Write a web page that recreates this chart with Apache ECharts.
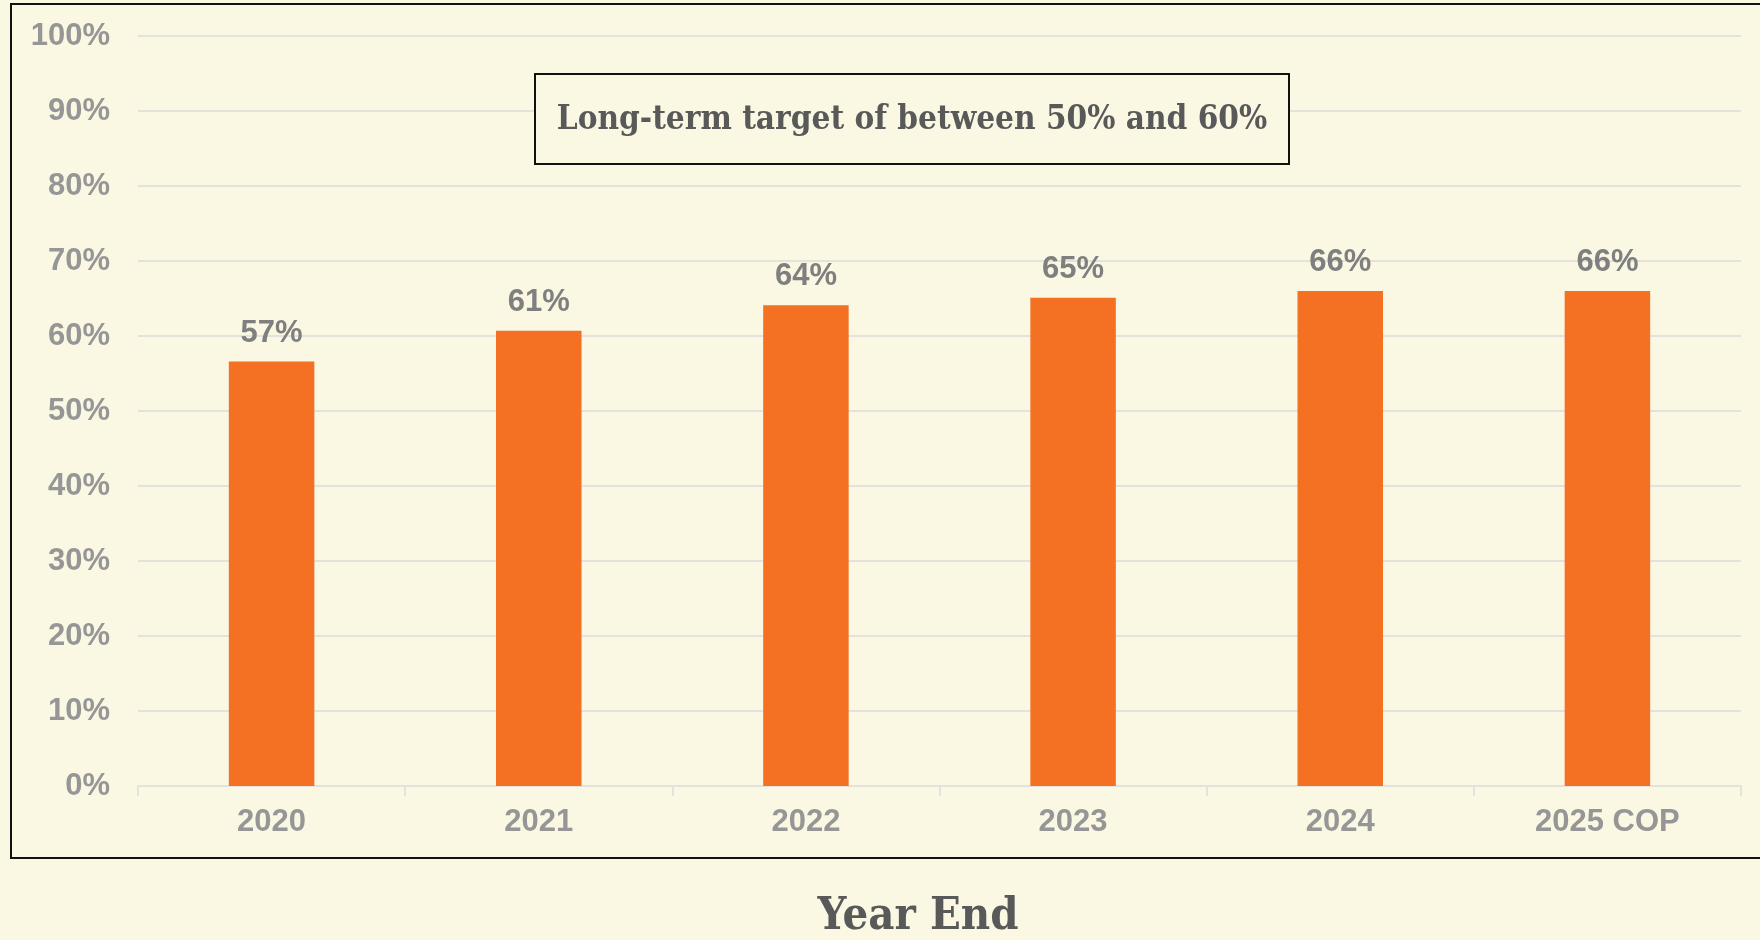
<!DOCTYPE html>
<html>
<head>
<meta charset="utf-8">
<script src="https://cdn.jsdelivr.net/npm/echarts@6/dist/echarts.min.js"></script>
<style>
  html, body { margin: 0; padding: 0; background: #faf7e3; }
  #chart { width: 1760px; height: 940px; }
</style>
</head>
<body>
<div id="chart"></div>
<script>
// data
var years = ['2020', '2021', '2022', '2023', '2024', '2025 COP'];
var ratio = [56.6, 60.7, 64.1, 65.1, 66.0, 66.0];
var yTicks = [0, 10, 20, 30, 40, 50, 60, 70, 80, 90, 100];
var note = 'Long-term target of between 50% and 60%';
var axisTitle = 'Year End';

var chartDom = document.getElementById('chart');
var myChart = echarts.init(chartDom);
var option;

option = {
    backgroundColor: '#faf7e3',
    animation: false,
    grid: { left: 138, right: 19, top: 36, bottom: 154 },
    xAxis: {
        type: 'category',
        data: years,
        axisLine: { lineStyle: { color: '#e4e2dc', width: 2 } },
        axisTick: { show: true, length: 10, lineStyle: { color: '#e4e2dc', width: 2 } },
        axisLabel: {
            color: '#969696',
            fontFamily: 'Liberation Sans, Arial, sans-serif',
            fontWeight: 'bold',
            fontSize: 31,
            margin: 21
        }
    },
    yAxis: {
        type: 'value',
        min: yTicks[0],
        max: yTicks[yTicks.length - 1],
        interval: yTicks[1] - yTicks[0],
        axisLine: { show: false },
        axisTick: { show: false },
        splitLine: { lineStyle: { color: '#e4e2dc', width: 2 } },
        axisLabel: {
            formatter: '{value}%',
            color: '#969696',
            fontFamily: 'Liberation Sans, Arial, sans-serif',
            fontWeight: 'bold',
            fontSize: 31,
            margin: 28
        }
    },
    series: [
        {
            type: 'bar',
            data: ratio,
            barWidth: '32%',
            itemStyle: { color: '#f47123' },
            label: {
                show: true,
                position: 'top',
                distance: 13,
                formatter: function (p) { return Math.round(p.value) + '%'; },
                color: '#7f7f7f',
                fontFamily: 'Liberation Sans, Arial, sans-serif',
                fontWeight: 'bold',
                fontSize: 31
            }
        }
    ],
    graphic: [
        {
            type: 'rect',
            shape: { x: 11, y: 4, width: 1770, height: 854 },
            style: { fill: 'none', stroke: '#111', lineWidth: 2 },
            silent: true
        },
        {
            type: 'rect',
            shape: { x: 535, y: 74, width: 754, height: 90 },
            style: { fill: '#faf7e3', stroke: '#111', lineWidth: 2 },
            z: 10
        },
        {
            type: 'text',
            x: 912, y: 120,
            style: {
                text: note,
                fill: '#595959',
                font: 'bold 33px "DejaVu Serif Condensed", "DejaVu Serif", serif',
                textAlign: 'center',
                textVerticalAlign: 'middle'
            },
            z: 11
        },
        {
            type: 'text',
            x: 918, y: 917,
            style: {
                text: axisTitle,
                fill: '#595959',
                font: 'bold 45px "DejaVu Serif Condensed", "DejaVu Serif", serif',
                textAlign: 'center',
                textVerticalAlign: 'middle'
            }
        }
    ]
};

option && myChart.setOption(option);
</script>
</body>
</html>
